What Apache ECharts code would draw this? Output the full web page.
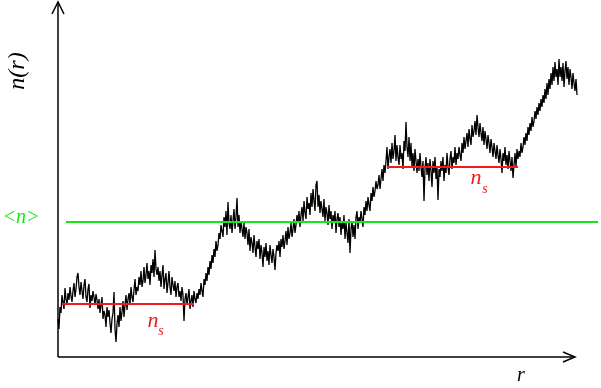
<!DOCTYPE html>
<html><head><meta charset="utf-8">
<script src="https://cdn.jsdelivr.net/npm/echarts@6/dist/echarts.min.js"></script>
<style>html,body{margin:0;padding:0;background:#fff}#c{width:601px;height:388px}</style>
</head><body><div id="c"></div>
<script>
const nValues = [
 38,28,50,44,62,55,48,69,58,52, 64,57,70,61,55,66,74,60,68,80,
 84,70,62,75,66,58,72,78,60,55, 68,73,49,62,56,66,60,52,63,57,
 48,58,44,52,60,38,46,42,30,50, 40,47,34,24,38,44,65,28,15,33,
 42,30,50,36,45,56,40,52,62,47, 58,64,52,70,60,55,67,78,62,70,
 66,80,72,86,70,76,90,74,82,94, 78,86,72,92,84,98,80,107,88,82,
 90,76,86,70,82,92,68,78,84,64, 74,86,70,62,80,72,66,76,60,70,
 74,60,66,56,70,62,36,58,64,52, 60,68,48,56,62,50,66,58,54,64,
 58,68,62,74,66,60,78,72,84,76, 90,82,96,88,102,94,108,100,116,106,
 112,124,118,132,126,120,140,130,146,122, 155,134,128,142,124,136,148,128,140,159,
 130,142,124,136,128,120,134,118,130,124, 112,128,106,120,114,104,122,110,100,116,
 108,118,98,112,104,90,110,100,114,96, 106,92,112,102,94,108,100,87,104,112,
 106,116,100,118,110,122,108,116,126,112, 130,118,124,134,120,128,138,124,132,142,
 134,146,130,142,150,136,156,144,138,160, 148,154,142,164,150,168,156,146,172,176,
 150,162,144,156,148,140,158,136,150,144, 132,152,138,146,128,142,136,146,124,138,
 144,130,140,122,136,128,142,118,134,124, 114,138,104,128,136,120,132,118,140,146,
 128,140,134,146,138,130,150,142,156,146, 160,152,146,164,156,170,160,166,176,168,
 172,182,168,178,188,176,192,184,196,210, 188,200,208,194,214,198,206,222,196,212,
 200,192,212,198,204,188,216,206,235,210, 200,220,196,214,190,204,186,208,196,184,
 198,186,204,190,180,196,156,188,200,182, 194,176,198,186,170,196,184,200,178,190,
 157,188,180,196,186,200,176,192,184,204, 190,182,198,206,188,200,194,210,192,204,
 198,210,202,196,214,204,220,208,216,224, 210,228,218,212,232,220,226,236,222,242,
 230,220,234,224,216,230,212,226,218,208, 222,214,204,218,210,200,214,206,198,212,
 202,194,208,198,184,204,196,210,192,202, 188,206,196,186,200,179,192,204,190,208,
 198,206,200,214,204,210,220,212,224,216, 230,222,234,226,240,230,236,246,238,250,
 242,254,246,258,250,262,254,268,258,274, 262,278,268,284,272,290,276,295,280,288,
 272,298,280,290,276,294,270,286,296,278, 290,272,288,280,268,284,274,266,278,262
];
const rStep = 1;
const meanN = 135;           // <n>
const meanRange = [8, 540];
const nsLow = 53;            // first n_s level
const nsLowRange = [4, 136];
const nsHigh = 190;          // second n_s level
const nsHighRange = [329, 460];
const xAxisEnd = 517;
const yAxisEnd = 355;

const lineData = nValues.map((v, i) => [i * rStep, v]);
const serif = '"Liberation Serif", "DejaVu Serif", serif';
const GREEN = '#19e619';
const RED = '#ee1c1c';

const chart = echarts.init(document.getElementById('c'), null, {renderer: 'canvas'});
chart.setOption({
  animation: false,
  backgroundColor: '#fff',
  grid: {left: 58, right: 3, top: 2, bottom: 31},
  xAxis: {type: 'value', min: 0, max: 540, show: false},
  yAxis: {type: 'value', min: 0, max: 355, show: false},
  series: [{
    type: 'line',
    data: lineData,
    showSymbol: false,
    clip: false,
    lineStyle: {color: '#000', width: 1.3},
    markLine: {
      silent: true,
      symbol: 'none',
      label: {show: false},
      data: [
        [{coord: [0, 0], lineStyle: {color: '#000', width: 1.5, type: 'solid'}}, {coord: [xAxisEnd, 0]}],
        [{coord: [0, 0], lineStyle: {color: '#000', width: 1.5, type: 'solid'}}, {coord: [0, yAxisEnd]}],
        [{coord: [meanRange[0], meanN], lineStyle: {color: GREEN, width: 2, type: 'solid'}}, {coord: [meanRange[1], meanN]}],
        [{coord: [nsLowRange[0], nsLow], lineStyle: {color: RED, width: 2, type: 'solid'}}, {coord: [nsLowRange[1], nsLow]}],
        [{coord: [nsHighRange[0], nsHigh], lineStyle: {color: RED, width: 2, type: 'solid'}}, {coord: [nsHighRange[1], nsHigh]}]
      ]
    }
  }]
});

const px = chart.convertToPixel({gridIndex: 0}, [xAxisEnd, 0]);
const py = chart.convertToPixel({gridIndex: 0}, [0, yAxisEnd]);
function txt(text, x, y, size, color, extra) {
  return Object.assign({
    type: 'text', x: x, y: y,
    style: {text: text, x: 0, y: 0, font: 'italic ' + size + 'px ' + serif, fill: color,
      align: 'center', verticalAlign: 'middle', textAlign: 'center', textVerticalAlign: 'middle'}
  }, extra || {});
}
chart.setOption({
  graphic: [
    {type: 'polyline', shape: {points: [[px[0] - 12, px[1] - 5], [px[0], px[1]], [px[0] - 12, px[1] + 5]]},
      style: {stroke: '#000', lineWidth: 1.5, fill: null}},
    {type: 'polyline', shape: {points: [[py[0] - 6, py[1] + 12], [py[0], py[1]], [py[0] + 6, py[1] + 12]]},
      style: {stroke: '#000', lineWidth: 1.5, fill: null}},
    txt('n(r)', 18, 71, 24, '#000', {rotation: Math.PI / 2}),
    txt('r', 521, 376, 20, '#000'),
    txt('<n>', 21, 218, 20, GREEN),
    txt('n', 153, 321, 22, RED),
    txt('s', 161, 331, 14, RED),
    txt('n', 476, 178, 22, RED),
    txt('s', 485, 189, 14, RED)
  ]
});
</script></body></html>
